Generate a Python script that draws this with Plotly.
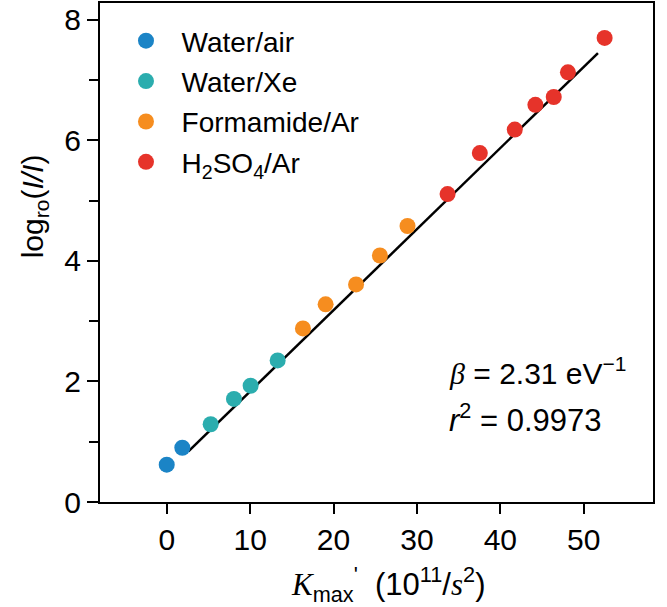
import plotly.graph_objects as go

# ---- data ----
water_air_x = [0.0, 1.87]
water_air_y = [0.62, 0.90]
water_xe_x = [5.27, 8.06, 10.06, 13.3]
water_xe_y = [1.29, 1.71, 1.93, 2.35]
formamide_x = [16.33, 19.05, 22.7, 25.56, 28.87]
formamide_y = [2.88, 3.28, 3.61, 4.09, 4.58]
h2so4_x = [33.67, 37.54, 41.73, 44.2, 46.4, 48.1, 52.5]
h2so4_y = [5.11, 5.79, 6.18, 6.59, 6.72, 7.13, 7.70]

fit_slope = 0.1346
fit_intercept = 0.49
fit_x = [2.6, 51.7]
fit_y = [fit_intercept + fit_slope * v for v in fit_x]

series = [
    ("Water/air", water_air_x, water_air_y, "#1b84c6"),
    ("Water/Xe", water_xe_x, water_xe_y, "#2badae"),
    ("Formamide/Ar", formamide_x, formamide_y, "#f68d1f"),
    ("H<sub>2</sub>SO<sub>4</sub>/Ar", h2so4_x, h2so4_y, "#e6332a"),
]

FONT = "Liberation Sans, Arial, Helvetica, sans-serif"
SERIF = "Liberation Serif, DejaVu Serif, serif"

fig = go.Figure()
fig.add_trace(go.Scatter(x=fit_x, y=fit_y, mode="lines",
                         line=dict(color="black", width=2.5),
                         showlegend=False, hoverinfo="skip"))
for i, (name, xs, ys, col) in enumerate(series):
    fig.add_trace(go.Scatter(
        x=xs, y=ys, mode="markers", name="\u00a0\u00a0" + name,
        legendgroup=f"g{i}",
        marker=dict(size=16, color=col, line=dict(width=0)),
    ))

fig.update_layout(
    template="none",
    width=667, height=607,
    margin=dict(l=100, r=14, t=3, b=105, autoexpand=False),
    paper_bgcolor="white", plot_bgcolor="white",
    font=dict(family=FONT, color="black", size=30),
    showlegend=True,
    legend=dict(x=0.047, y=0.974, xanchor="left", yanchor="top",
                font=dict(size=28, family=FONT),
                bgcolor="rgba(0,0,0,0)", tracegroupgap=1,
                itemsizing="trace"),
)
fig.update_xaxes(
    range=[-8, 58.3], tickmode="array", tickvals=[0, 10, 20, 30, 40, 50],
    ticks="outside", ticklen=10, tickwidth=1.5, tickcolor="black",
    showline=True, linecolor="black", linewidth=2, mirror=True,
    showgrid=False, zeroline=False, tickfont=dict(size=30), automargin=False,
)
fig.update_yaxes(
    range=[0, 8.28], tickmode="array", tickvals=[0, 2, 4, 6, 8],
    ticks="outside", ticklen=11, tickwidth=1.5, tickcolor="black",
    minor=dict(tickvals=[1, 3, 5, 7], ticks="outside", ticklen=9,
               tickwidth=1.5, tickcolor="black", showgrid=False),
    showline=True, linecolor="black", linewidth=2, mirror=True,
    showgrid=False, zeroline=False, tickfont=dict(size=30), automargin=False,
)

fig.add_annotation(
    xref="paper", yref="paper", x=-0.118, y=0.592,
    text="log<sub>ro</sub>(<i>I/I</i>)", textangle=-90, showarrow=False,
    xanchor="center", yanchor="middle", font=dict(size=30),
)
fig.add_annotation(
    xref="paper", yref="paper", x=0.521, y=-0.166,
    text=(f"<span style='font-family:{SERIF}'><i>K</i></span><sub>max</sub>"
          "<sup>'</sup>\u00a0 (10<sup>11</sup>/"
          f"<span style='font-family:{SERIF}'><i>s</i></span><sup>2</sup>)"),
    showarrow=False, xanchor="center", yanchor="middle", font=dict(size=31),
)
fig.add_annotation(
    xref="paper", yref="paper", x=0.627, y=0.2617,
    text=f"<span style='font-family:{SERIF}'><i>β</i></span> = 2.31 eV<sup>−1</sup>",
    showarrow=False, xanchor="left", yanchor="middle", font=dict(size=30),
)
fig.add_annotation(
    xref="paper", yref="paper", x=0.627, y=0.169,
    text="<i>r</i><sup>2</sup> = 0.9973",
    showarrow=False, xanchor="left", yanchor="middle", font=dict(size=31),
)

fig.write_html("out.html", config={"displayModeBar": False},
               post_script="document.body.style.margin='0';document.body.style.overflow='hidden';")
